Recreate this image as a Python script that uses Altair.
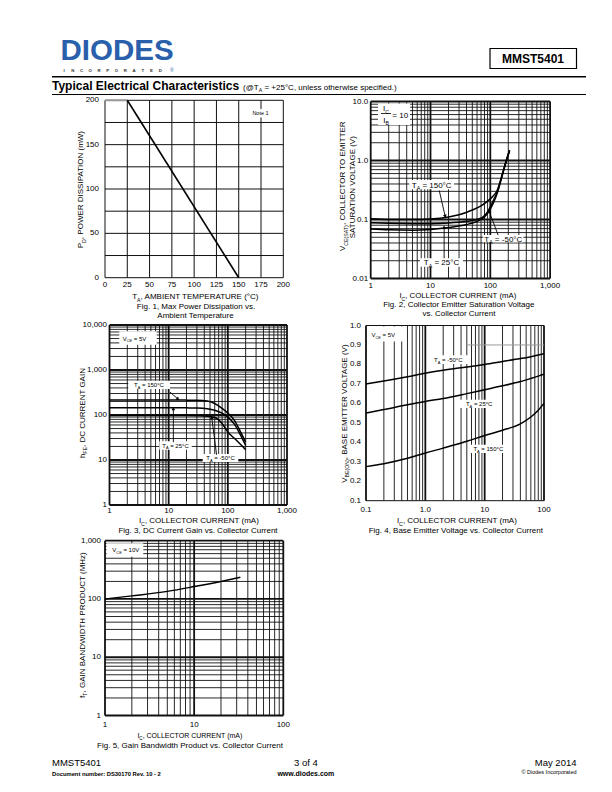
import math
import altair as alt
import pandas as pd

FONT = "Liberation Sans"
M = 8  # page margin of the html page

# ---------------- data ----------------
# Fig. 1  Max power dissipation vs ambient temperature
f1_temp = [25, 150]
f1_power = [200, 0]
f1_flat_temp = [0, 25]
f1_flat_power = [200, 200]
f1_grid = [0, 25, 50, 75, 100, 125, 150, 175, 200]
f1_xticks = [0, 25, 50, 75, 100, 125, 150, 175, 200]
f1_xlabels = ["0", "25", "50", "75", "100", "125", "150", "175", "200"]
f1_yticks = [0, 50, 100, 150, 200]
f1_ylabels = ["0", "50", "100", "150", "200"]

# Fig. 2  VCE(sat) vs IC
f2_ic_150 = [1, 2, 5, 10, 20, 30, 50, 70, 90, 110, 130, 160, 185, 210]
f2_v_150 = [0.103, 0.100, 0.100, 0.102, 0.110, 0.120, 0.145, 0.170, 0.205, 0.245, 0.310, 0.600, 1.00, 1.50]
f2_ic_m50 = [1, 2, 5, 10, 20, 40, 60, 75, 90, 110, 130, 160, 185, 210]
f2_v_m50 = [0.088, 0.086, 0.085, 0.085, 0.087, 0.093, 0.100, 0.110, 0.135, 0.200, 0.290, 0.590, 0.99, 1.48]
f2_ic_25 = [1, 2, 5, 10, 20, 40, 60, 80, 100, 115, 130, 160, 185, 210]
f2_v_25 = [0.069, 0.067, 0.066, 0.068, 0.073, 0.082, 0.093, 0.110, 0.150, 0.200, 0.275, 0.580, 0.97, 1.46]
f2_xticks = [1, 10, 100, 1000]
f2_xlabels = ["1", "10", "100", "1,000"]
f2_yticks = [0.01, 0.1, 1, 10]
f2_ylabels = ["0.01", "0.1", "1.0", "10.0"]

# Fig. 3  hFE vs IC
f3_ic = [1, 2, 5, 10, 20, 30, 45, 60, 80, 100, 130, 160, 200]
f3_h_150 = [215, 215, 215, 215, 214, 213, 205, 180, 140, 110, 75, 45, 25]
f3_h_25 = [145, 145, 145, 145, 144, 143, 138, 128, 110, 90, 62, 38, 21]
f3_h_m50 = [97, 97, 97, 97, 97, 96, 94, 88, 65, 42, 30, 23, 17]
f3_xticks = [1, 10, 100, 1000]
f3_xlabels = ["1", "10", "100", "1,000"]
f3_yticks = [1, 10, 100, 1000, 10000]
f3_ylabels = ["1", "10", "100", "1,000", "10,000"]

# Fig. 4  VBE(on) vs IC
f4_ic = [0.1, 0.2, 0.5, 1, 2, 5, 10, 20, 40, 60, 80, 100]
f4_v_m50 = [0.700, 0.715, 0.737, 0.755, 0.770, 0.787, 0.800, 0.815, 0.830, 0.840, 0.848, 0.855]
f4_v_25 = [0.550, 0.568, 0.593, 0.610, 0.625, 0.650, 0.670, 0.690, 0.712, 0.728, 0.740, 0.750]
f4_v_150 = [0.275, 0.290, 0.318, 0.345, 0.370, 0.405, 0.435, 0.462, 0.495, 0.530, 0.565, 0.600]
f4_xticks = [0.1, 1, 10, 100]
f4_xlabels = ["0.1", "1.0", "10", "100"]
f4_yticks = [0.1, 0.2, 0.3, 0.4, 0.5, 0.6, 0.7, 0.8, 0.9, 1.0]
f4_ylabels = ["0.1", "0.2", "0.3", "0.4", "0.5", "0.6", "0.7", "0.8", "0.9", "1.0"]
f4_gray_ic = [5, 100]
f4_gray_v = [0.9, 0.9]

# Fig. 5  fT vs IC
f5_ic = [1, 2, 5, 10, 20, 33]
f5_ft = [100, 113, 135, 163, 200, 235]
f5_xticks = [1, 10, 100]
f5_xlabels = ["1", "10", "100"]
f5_yticks = [1, 10, 100, 1000]
f5_ylabels = ["1", "10", "100", "1,000"]

# ---------------- font metrics (Arial / Liberation Sans, 1/1000 em) ----------------
_U = {'A': 667, 'B': 667, 'C': 722, 'D': 722, 'E': 667, 'F': 611, 'G': 778, 'H': 722, 'I': 278,
      'J': 500, 'K': 667, 'L': 556, 'M': 833, 'N': 722, 'O': 778, 'P': 667, 'Q': 778, 'R': 722,
      'S': 667, 'T': 611, 'U': 722, 'V': 667, 'W': 944, 'X': 667, 'Y': 667, 'Z': 611}
_L = {'a': 556, 'b': 556, 'c': 500, 'd': 556, 'e': 556, 'f': 278, 'g': 556, 'h': 556, 'i': 222,
      'j': 222, 'k': 500, 'l': 222, 'm': 833, 'n': 556, 'o': 556, 'p': 556, 'q': 556, 'r': 333,
      's': 500, 't': 278, 'u': 556, 'v': 500, 'w': 722, 'x': 500, 'y': 500, 'z': 500}
_P = {' ': 278, '(': 333, ')': 333, ',': 278, '-': 333, '.': 278, '/': 278, ':': 278, '=': 584,
      '+': 584, '@': 1015, '°': 400, '©': 737, '®': 737}
W_N = {**_U, **_L, **_P, **{d: 556 for d in '0123456789'}}
_UB = dict(_U)
_UB.update({'A': 722, 'B': 722, 'J': 556, 'K': 722, 'L': 611})
_LB = {'a': 556, 'b': 611, 'c': 556, 'd': 611, 'e': 556, 'f': 333, 'g': 611, 'h': 611, 'i': 278,
       'j': 278, 'k': 556, 'l': 278, 'm': 889, 'n': 611, 'o': 611, 'p': 611, 'q': 611, 'r': 389,
       's': 556, 't': 333, 'u': 611, 'v': 556, 'w': 778, 'x': 556, 'y': 556, 'z': 500}
W_B = {**_UB, **_LB, **_P, ':': 333, **{d: 556 for d in '0123456789'}}


def measure(s, bold=False):
    t = W_B if bold else W_N
    return sum(t.get(c, 556) for c in s) / 1000.0


ROWS = []


def rich(pieces, ax, ay, fs, angle=0, align='center', bold=False, color='black', sub=0.65):
    """pieces: list of (text, is_subscript); (ax, ay) = page coords of visual centre line."""
    widths = [measure(s, bold) * (fs * sub if sb else fs) for s, sb in pieces]
    total = sum(widths)
    d = {'center': -total / 2, 'left': 0.0, 'right': -total}[align]
    for (s, sb), w in zip(pieces, widths):
        f = fs * sub if sb else fs
        lead = len(s) - len(s.lstrip(' '))
        st = s.strip(' ')
        dd = d + lead * 0.278 * f
        perp = 0.36 * fs + (0.3 * fs if sb else 0)
        if angle == 0:
            px, py = ax + dd, ay + perp
        else:
            px, py = ax + perp, ay - dd
        if st:
            ROWS.append(dict(x=px - M, y=py - M, text=st, fs=round(f, 2), angle=angle,
                             weight='bold' if bold else 'normal', color=color))
        d += w


def text_layers():
    groups = {}
    for r in ROWS:
        groups.setdefault((r['fs'], r['angle'], r['weight'], r['color']), []).append(r)
    out = []
    for (fs, ang, wt, col), rs in groups.items():
        df = pd.DataFrame(rs)[['x', 'y', 'text']]
        out.append(alt.Chart(df).mark_text(font=FONT, fontSize=fs, angle=ang, fontWeight=wt,
                                           color=col, align='left', baseline='alphabetic').encode(
            x=alt.X('x:Q', scale=None, axis=None),
            y=alt.Y('y:Q', scale=None, axis=None),
            text='text:N'))
    return out


class Fig:
    def __init__(self, x0, x1, yt, yb, xdom, ydom, xlog, ylog):
        self.x0, self.x1, self.yt, self.yb = x0, x1, yt, yb
        self.xdom, self.ydom, self.xlog, self.ylog = xdom, ydom, xlog, ylog
        kx = dict(type='log') if xlog else dict(type='linear', zero=False)
        ky = dict(type='log') if ylog else dict(type='linear', zero=False)
        self.xs = alt.Scale(domain=xdom, range=[x0 - M, x1 - M], nice=False, **kx)
        self.ys = alt.Scale(domain=ydom, range=[yb - M, yt - M], nice=False, **ky)

    @staticmethod
    def _t(v, lg):
        return math.log10(v) if lg else v

    def px(self, v):
        a, b = self._t(self.xdom[0], self.xlog), self._t(self.xdom[1], self.xlog)
        return self.x0 + (self._t(v, self.xlog) - a) / (b - a) * (self.x1 - self.x0)

    def py(self, v):
        a, b = self._t(self.ydom[0], self.ylog), self._t(self.ydom[1], self.ylog)
        return self.yb - (self._t(v, self.ylog) - a) / (b - a) * (self.yb - self.yt)


F1 = Fig(105, 283.3, 100.3, 277.7, [0, 200], [0, 200], False, False)
F2 = Fig(370.7, 550.1, 101.5, 278.5, [1, 1000], [0.01, 10], True, True)
F3 = Fig(109.5, 287, 325, 505, [1, 1000], [1, 10000], True, True)
F4 = Fig(366, 544, 325.5, 500.7, [0.1, 100], [0.1, 1.0], True, False)
F5 = Fig(105, 283.3, 540.7, 715.5, [1, 100], [1, 1000], True, True)


def log_grid(lo, hi):
    vals, w = [], []
    for e in range(lo, hi):
        for k in range(1, 10):
            vals.append(round(k * 10.0 ** e, 8))
            w.append(1.8 if k == 1 else 0.9)
    vals.append(round(10.0 ** hi, 8))
    w.append(1.8)
    return vals, w


def vgrid(fig, vals, w, color='#111'):
    df = pd.DataFrame({'v': vals, 'w': w})
    return alt.Chart(df).mark_rule(color=color).encode(
        x=alt.X('v:Q', scale=fig.xs, axis=None),
        y=alt.YDatum(fig.ydom[0], type='quantitative', scale=fig.ys, axis=None),
        y2=alt.Y2Datum(fig.ydom[1]),
        strokeWidth=alt.StrokeWidth('w:Q', scale=None, legend=None))


def hgrid(fig, vals, w, color='#111'):
    df = pd.DataFrame({'v': vals, 'w': w})
    return alt.Chart(df).mark_rule(color=color).encode(
        y=alt.Y('v:Q', scale=fig.ys, axis=None),
        x=alt.XDatum(fig.xdom[0], type='quantitative', scale=fig.xs, axis=None),
        x2=alt.X2Datum(fig.xdom[1]),
        strokeWidth=alt.StrokeWidth('w:Q', scale=None, legend=None))


def curve(fig, xv, yv, width=1.5, color='black', interp='monotone'):
    df = pd.DataFrame({'x': xv, 'y': yv})
    return alt.Chart(df).mark_line(color=color, strokeWidth=width, interpolate=interp).encode(
        x=alt.X('x:Q', scale=fig.xs, axis=None),
        y=alt.Y('y:Q', scale=fig.ys, axis=None))


def xlabels(fig, vals, labs, dy, fs=8):
    df = pd.DataFrame({'v': vals, 't': labs})
    return alt.Chart(df).mark_text(font=FONT, fontSize=fs, align='center', baseline='middle',
                                   dy=dy, color='black').encode(
        x=alt.X('v:Q', scale=fig.xs, axis=None),
        y=alt.YDatum(fig.ydom[0], type='quantitative', scale=fig.ys, axis=None),
        text='t:N')


def ylabels(fig, vals, labs, dx, fs=8):
    df = pd.DataFrame({'v': vals, 't': labs})
    return alt.Chart(df).mark_text(font=FONT, fontSize=fs, align='right', baseline='middle',
                                   dx=dx, color='black').encode(
        y=alt.Y('v:Q', scale=fig.ys, axis=None),
        x=alt.XDatum(fig.xdom[0], type='quantitative', scale=fig.xs, axis=None),
        text='t:N')


def arrows(fig, segs):
    rows = []
    for xa, ya, xb, yb in segs:
        dxp = fig.px(xb) - fig.px(xa)
        dyp = fig.py(yb) - fig.py(ya)
        ang = math.degrees(math.atan2(dxp, -dyp)) % 360
        rows.append(dict(xa=xa, ya=ya, xb=xb, yb=yb, ang=ang))
    df = pd.DataFrame(rows)
    line = alt.Chart(df).mark_rule(color='black', strokeWidth=0.9).encode(
        x=alt.X('xa:Q', scale=fig.xs, axis=None), y=alt.Y('ya:Q', scale=fig.ys, axis=None),
        x2='xb:Q', y2='yb:Q')
    head = alt.Chart(df).mark_point(shape='triangle-up', filled=True, size=14, color='black',
                                    opacity=1).encode(
        x=alt.X('xb:Q', scale=fig.xs, axis=None), y=alt.Y('yb:Q', scale=fig.ys, axis=None),
        angle=alt.Angle('ang:Q', scale=None))
    return [line, head]


def boxes(rects, fill='white', stroke=None, sw=1.0):
    df = pd.DataFrame([dict(x=a - M, x2=c - M, y=b - M, y2=d - M) for a, b, c, d in rects])
    kw = dict(fill=fill)
    if stroke:
        kw.update(stroke=stroke, strokeWidth=sw)
    return alt.Chart(df).mark_rect(**kw).encode(
        x=alt.X('x:Q', scale=None, axis=None), x2='x2:Q',
        y=alt.Y('y:Q', scale=None, axis=None), y2='y2:Q')


def page_rules(lines, color='black'):
    df = pd.DataFrame([dict(x=a - M, x2=c - M, y=b - M, y2=d - M, w=w) for a, b, c, d, w in lines])
    return alt.Chart(df).mark_rule(color=color).encode(
        x=alt.X('x:Q', scale=None, axis=None), x2='x2:Q',
        y=alt.Y('y:Q', scale=None, axis=None), y2='y2:Q',
        strokeWidth=alt.StrokeWidth('w:Q', scale=None, legend=None))


layers = []

# ---------------- grids ----------------
layers.append(vgrid(F1, f1_grid, [1.0] * len(f1_grid)))
layers.append(hgrid(F1, f1_grid, [1.0] * len(f1_grid)))
g = log_grid(0, 3)
layers.append(vgrid(F2, *g))
g = log_grid(-2, 1)
layers.append(hgrid(F2, *g))
g = log_grid(0, 3)
layers.append(vgrid(F3, *g))
g = log_grid(0, 4)
layers.append(hgrid(F3, *g))
g = log_grid(-1, 2)
layers.append(vgrid(F4, *g))
layers.append(hgrid(F4, [0.1, 1.0], [1.0, 1.0]))
g = log_grid(0, 2)
layers.append(vgrid(F5, *g))
g = log_grid(0, 3)
layers.append(hgrid(F5, *g))

# ---------------- white label boxes ----------------
layers.append(boxes([
    (250, 109, 271, 117.5),                                   # Note 1
    (378, 103.5, 410, 125),                                   # IC/IB = 10
    (409.3, 180, 454, 189.3), (483.3, 235, 523.3, 242.3), (420, 258.3, 463, 266.7),
    (119.3, 331.3, 156.7, 344.7), (128.3, 380.7, 170, 389),
    (159.3, 441.3, 191.7, 449.7), (202.7, 454, 238.3, 462),
    (367.2, 326.5, 405, 341.5), (428.3, 355.3, 468.3, 364),
    (456.7, 399.7, 501.7, 408), (468.3, 444.7, 508.3, 453),
    (106.5, 543.3, 143.3, 556.7),
]))

# ---------------- curves ----------------
layers.append(curve(F1, f1_flat_temp, f1_flat_power, width=2, color='#9a9a9a', interp='linear'))
layers.append(curve(F1, f1_temp, f1_power, width=1.6, interp='linear'))
layers.append(curve(F2, f2_ic_150, f2_v_150))
layers.append(curve(F2, f2_ic_m50, f2_v_m50))
layers.append(curve(F2, f2_ic_25, f2_v_25))
layers.append(curve(F3, f3_ic, f3_h_150))
layers.append(curve(F3, f3_ic, f3_h_25))
layers.append(curve(F3, f3_ic, f3_h_m50))
layers.append(curve(F4, f4_gray_ic, f4_gray_v, width=1, color='#9a9a9a', interp='linear'))
layers.append(curve(F4, f4_ic, f4_v_m50))
layers.append(curve(F4, f4_ic, f4_v_25))
layers.append(curve(F4, f4_ic, f4_v_150))
layers.append(curve(F5, f5_ic, f5_ft))

# ---------------- arrows ----------------
layers += arrows(F2, [(14, 0.31, 17.6, 0.113), (16.9, 0.022, 16.9, 0.074), (135, 0.0546, 95, 0.14)])
layers += arrows(F3, [(10.5, 324, 14.4, 226), (12, 25, 12, 138), (64.6, 13.1, 53.4, 88)])

# ---------------- tick labels ----------------
layers.append(xlabels(F1, f1_xticks, f1_xlabels, 7))
layers.append(ylabels(F1, f1_yticks, f1_ylabels, -6))
layers.append(xlabels(F2, f2_xticks, f2_xlabels, 7.5))
layers.append(ylabels(F2, f2_yticks, f2_ylabels, -2.5))
layers.append(xlabels(F3, f3_xticks, f3_xlabels, 5.5))
layers.append(ylabels(F3, f3_yticks, f3_ylabels, -2.5))
layers.append(xlabels(F4, f4_xticks, f4_xlabels, 9))
layers.append(ylabels(F4, f4_yticks, f4_ylabels, -5))
layers.append(xlabels(F5, f5_xticks, f5_xlabels, 9))
layers.append(ylabels(F5, f5_yticks, f5_ylabels, -4))

# ---------------- texts ----------------
TA = lambda t: [("T", 0), ("A", 1), (" = " + t, 0)]
IC = [("I", 0), ("C", 1), (", COLLECTOR CURRENT (mA)", 0)]

# Fig 1
rich([("T", 0), ("A", 1), (", AMBIENT TEMPERATURE (°C)", 0)], 196, 296.5, 8)
rich([("Fig. 1, Max Power Dissipation vs.", 0)], 196, 306, 8)
rich([("Ambient Temperature", 0)], 196, 315, 8)
rich([("P", 0), ("D", 1), (", POWER DISSIPATION (mW)", 0)], 80.5, 189, 8, angle=270)
rich([("Note 1", 0)], 260.5, 113.3, 5.5)
# Fig 2
rich(IC, 458, 295.5, 7.8)
rich([("Fig. 2, Collector Emitter Saturation Voltage", 0)], 459, 304.5, 8)
rich([("vs. Collector Current", 0)], 459, 313, 8)
rich([("V", 0), ("CE(SAT)", 1), (", COLLECTOR TO EMITTER", 0)], 342.5, 186, 8, angle=270)
rich([("SATURATION VOLTAGE (V)", 0)], 352.5, 186, 8, angle=270)
rich(TA("150°C"), 431.7, 184.7, 8)
rich(TA("-50°C"), 503.3, 238.7, 8)
rich(TA("25°C"), 441.5, 262.5, 8)
rich([("I", 0), ("C", 1)], 386, 108.5, 8)
rich([("I", 0), ("B", 1)], 386, 119.8, 8)
rich([("= 10", 0)], 392.3, 115, 8, align='left')
# Fig 3
rich(IC, 199, 520.5, 8)
rich([("Fig. 3, DC Current Gain vs. Collector Current", 0)], 198, 530.5, 8)
rich([("h", 0), ("FE", 1), (", DC CURRENT GAIN", 0)], 82, 413, 8, angle=270)
rich([("V", 0), ("CE", 1), (" = 5V", 0)], 134.5, 338.5, 6)
rich(TA("150°C"), 149, 384.8, 6)
rich(TA("25°C"), 175.5, 445.5, 6)
rich(TA("-50°C"), 220.5, 458, 6)
# Fig 4
rich(IC, 457, 520.5, 8)
rich([("Fig. 4, Base Emitter Voltage vs. Collector Current", 0)], 456, 530.5, 8)
rich([("V", 0), ("BE(ON)", 1), (", BASE EMITTER VOLTAGE (V)", 0)], 344, 413, 8, angle=270)
rich([("V", 0), ("CE", 1), (" = 5V", 0)], 383.3, 335.3, 6)
rich(TA("-50°C"), 448.3, 359.7, 6)
rich(TA("25°C"), 479.2, 403.8, 6)
rich(TA("150°C"), 488.3, 448.8, 6)
# Fig 5
rich(IC, 190, 735, 7)
rich([("Fig. 5, Gain Bandwidth Product vs. Collector Current", 0)], 190, 745, 8)
rich([("f", 0), ("T", 1), (", GAIN BANDWIDTH PRODUCT (MHz)", 0)], 82, 625, 8, angle=270)
rich([("V", 0), ("CE", 1), (" = 10V", 0)], 125.8, 550, 6)

# header
title = "Typical Electrical Characteristics"
rich([(title, 0)], 52, 86, 12, align='left', bold=True)
rich([("(@T", 0), ("A", 1), (" = +25°C, unless otherwise specified.)", 0)],
     52 + measure(title, True) * 12 + 3, 86.8, 8, align='left')
rich([("MMST5401", 0)], 533, 58.5, 12, bold=True)
# logo
BLUE = "#2a5fab"
rich([("DIODES", 0)], 60.5, 49.5, 29.5, align='left', bold=True, color=BLUE)
rich([("®", 0)], 170, 70.5, 5, align='left', color=BLUE)
inc = "INCORPORATED"
for i, ch in enumerate(inc):
    rich([(ch, 0)], 64 + i * 8.75, 70.5, 4.3, bold=True, color='#333333')
# footer
rich([("MMST5401", 0)], 52, 763, 9.5, align='left')
rich([("Document number: DS30170 Rev. 10 - 2", 0)], 52, 773.5, 5.8, align='left', bold=True)
rich([("3 of 4", 0)], 306, 763, 9.5)
rich([("www.diodes.com", 0)], 306, 773.5, 7, bold=True)
rich([("May 2014", 0)], 576.5, 763, 9.5, align='right')
rich([("© Diodes Incorporated", 0)], 576.5, 772.5, 5.5, align='right')

# header box & rules
layers.append(boxes([(490, 48.5, 576.5, 68.5)], fill='white', stroke='black', sw=1.2))
layers.append(page_rules([(52, 76.8, 586, 76.8, 1.5), (52, 94.5, 586, 94.5, 1.0),
                          (381, 113.5, 391, 113.5, 0.8)]))

layers += text_layers()

chart = alt.layer(*layers).resolve_scale(x='independent', y='independent').properties(
    width=596, height=776, padding=0,
    autosize=alt.AutoSizeParams(type='none', contains='padding')
).configure_view(stroke=None)

chart.save("out.html", embed_options={"renderer": "svg", "actions": False})
